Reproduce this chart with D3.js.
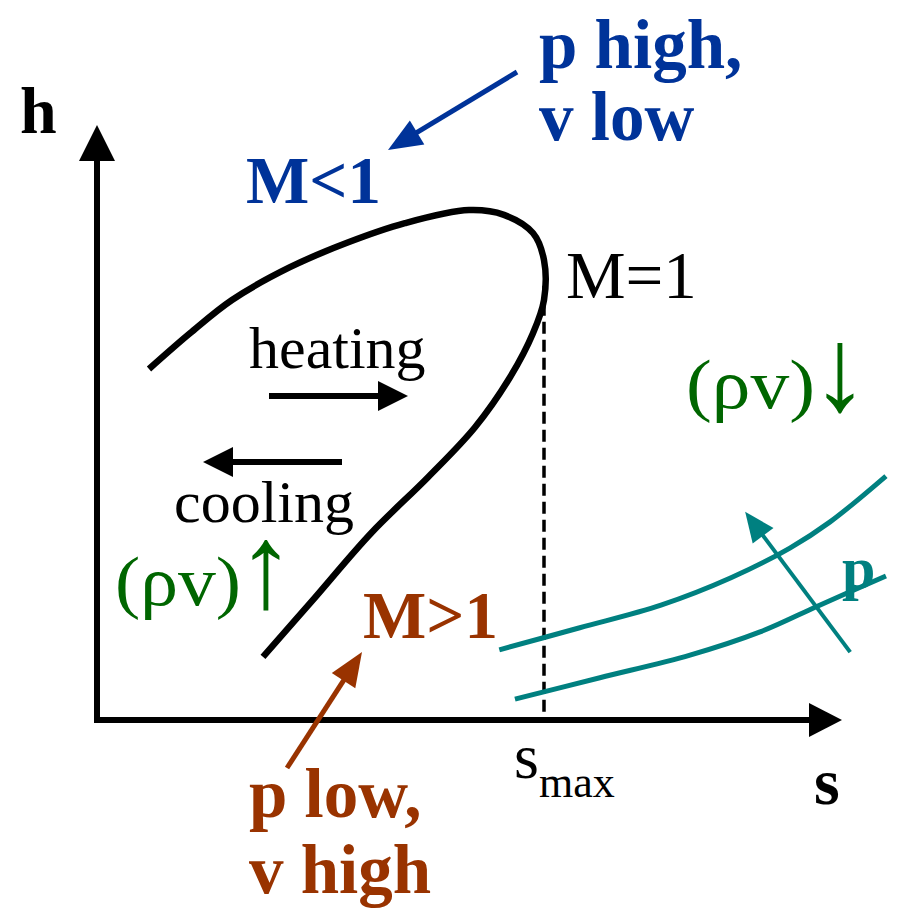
<!DOCTYPE html>
<html>
<head>
<meta charset="utf-8">
<script src="https://cdn.jsdelivr.net/npm/d3@7"></script>
<style>
  html, body { margin: 0; padding: 0; background: #fff; }
  svg text { font-family: "Liberation Serif", "Times New Roman", serif; }
</style>
</head>
<body>
<svg id="chart" width="905" height="912"></svg>
<script>
// ---- data (s, h in chart units) ----
const rayleighS = [6.98, 12.48, 18.12, 25.9, 33.56, 41.34, 49.93, 54.63, 58.52, 60.0, 60.0, 58.52, 55.44, 50.74, 44.43, 36.78, 28.99, 22.28];
const rayleighH = [59.0, 65.0, 70.6, 76.1, 80.2, 83.5, 85.7, 84.9, 81.85, 77.3, 70.6, 65.0, 57.6, 49.2, 40.8, 31.4, 20.2, 10.6];
const isobarHighS = [54.0, 64.8, 75.7, 85.1, 93.0, 98.4, 105.9];
const isobarHighH = [11.8, 15.5, 19.3, 23.9, 28.9, 33.3, 41.0];
const isobarLowS = [56.1, 67.5, 79.6, 89.0, 97.0, 105.9];
const isobarLowH = [3.5, 7.1, 10.9, 14.8, 19.3, 24.2];
const sMax = 60.0;
const sMaxTopH = 73;
const axisLabels = ["h", "s"];
const smaxLabel = ["s", "max"];

const W = 905, H = 912;
const svg = d3.select("#chart");
const x = d3.scaleLinear().domain([0, 100]).range([97, 842]);
const y = d3.scaleLinear().domain([0, 100]).range([720, 125]);

const BLUE = "#003399", BROWN = "#993300", GREEN = "#006600", TEAL = "#008080";

function arrow(x1, y1, x2, y2, color, width, headLen, headW) {
  const dx = x2 - x1, dy = y2 - y1, L = Math.hypot(dx, dy);
  const ux = dx / L, uy = dy / L;
  const bx = x2 - ux * headLen, by = y2 - uy * headLen;
  svg.append("line").attr("x1", x1).attr("y1", y1).attr("x2", bx + ux * 2).attr("y2", by + uy * 2)
    .attr("stroke", color).attr("stroke-width", width);
  const px = -uy * headW / 2, py = ux * headW / 2;
  svg.append("path").attr("d", `M${x2},${y2}L${bx + px},${by + py}L${bx - px},${by - py}Z`).attr("fill", color);
}

// axes
arrow(x(0), y(0) + 3, x(0), y(100), "#000", 6, 36, 36);
arrow(x(0) - 3, y(0), x(100), y(0), "#000", 6, 33, 34);

// dashed s_max line
svg.append("line").attr("x1", x(sMax)).attr("x2", x(sMax)).attr("y1", y(sMaxTopH)).attr("y2", y(0))
  .attr("stroke", "#000").attr("stroke-width", 3.5).attr("stroke-dasharray", "12,6");

const line = d3.line().x(d => x(d[0])).y(d => y(d[1])).curve(d3.curveCatmullRom.alpha(0.5));

// Rayleigh line
svg.append("path").datum(rayleighS.map((s, i) => [s, rayleighH[i]]))
  .attr("d", line).attr("fill", "none").attr("stroke", "#000").attr("stroke-width", 6.5);

// isobars
[[isobarHighS, isobarHighH], [isobarLowS, isobarLowH]].forEach(([S, Hh]) => {
  svg.append("path").datum(S.map((s, i) => [s, Hh[i]]))
    .attr("d", line).attr("fill", "none").attr("stroke", TEAL).attr("stroke-width", 5);
});

// teal arrow (increasing p)
arrow(x(101.1), y(11.4), x(87.0), y(35.0), TEAL, 4, 30, 26);

// heating / cooling arrows
arrow(269, 396, 408, 396, "#000", 6, 30, 30);
arrow(342, 462, 203, 462, "#000", 6, 30, 30);

// annotation arrows
arrow(517, 72, 388, 150, BLUE, 5, 34, 28);
arrow(287, 768, 362, 652, BROWN, 5, 34, 28);

function txt(t, px, py, size, color, weight, anchor) {
  return svg.append("text").attr("x", px).attr("y", py).attr("font-size", size)
    .attr("fill", color).attr("font-weight", weight || "normal").attr("text-anchor", anchor || "start").text(t);
}

// axis labels
txt(axisLabels[0], 20, 133, 66, "#000", "bold");
txt(axisLabels[1], 814, 804, 66, "#000", "bold");

// s_max
const sm = svg.append("text").attr("x", 514).attr("y", 778).attr("font-size", 64).attr("fill", "#000");
sm.append("tspan").text(smaxLabel[0]);
sm.append("tspan").attr("dy", 19).attr("font-size", 44).text(smaxLabel[1]);

// Mach labels
txt("M<1", 246, 203, 67, BLUE, "bold");
txt("M=1", 566, 298, 67, "#000", "normal");
txt("M>1", 363, 638, 67, BROWN, "bold");

txt("p high,", 539, 68, 69, BLUE, "bold");
txt("v low", 539, 140, 69, BLUE, "bold");
txt("p low,", 249, 817, 69, BROWN, "bold");
txt("v high", 249, 893, 69, BROWN, "bold");

txt("heating", 249, 368, 60, "#000", "normal");
txt("cooling", 174, 522, 60, "#000", "normal");

// mass flux labels
txt("(ρv)", 115, 605, 70, GREEN, "normal").attr("textLength", 126).attr("lengthAdjust", "spacingAndGlyphs");
txt("↑", 0, 0, 72, GREEN, "normal", "middle").attr("transform", "translate(266,607) scale(1.6,1.65)");
txt("(ρv)", 686, 408, 70, GREEN, "normal").attr("textLength", 129).attr("lengthAdjust", "spacingAndGlyphs");
txt("↓", 0, 0, 72, GREEN, "normal", "middle").attr("transform", "translate(840,410) scale(1.6,1.65)");

txt("p", 842, 588, 60, TEAL, "bold");
</script>
</body>
</html>
